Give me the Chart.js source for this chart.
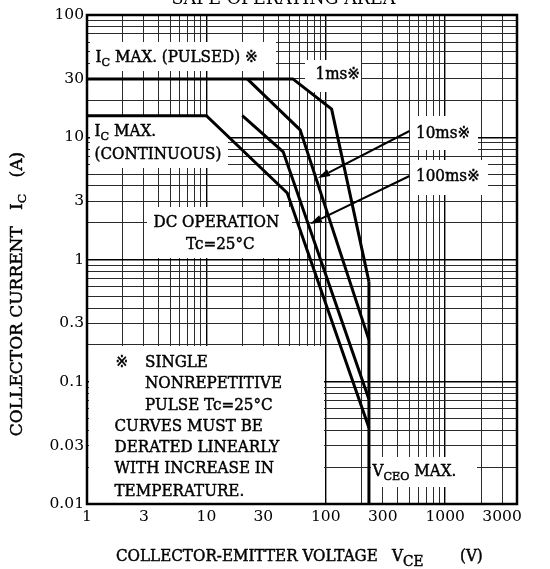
<!DOCTYPE html>
<html><head><meta charset="utf-8">
<script src="https://cdn.jsdelivr.net/npm/chart.js@4.4.1/dist/chart.umd.min.js"></script>
<style>html,body{margin:0;padding:0;background:#fff;}#wrap{width:550px;height:569px;position:relative;}</style>
</head><body><div id="wrap"><canvas id="c"></canvas></div>
<script>
// ---- data ----
const xTickLabels = [1, 3, 10, 30, 100, 300, 1000, 3000];
const yTickLabels = [0.01, 0.03, 0.1, 0.3, 1, 3, 10, 30, 100];
const xDecades = [1, 10, 100, 1000];
const yDecades = [0.01, 0.1, 1, 10];
const gridMultipliers = [1, 2, 3, 4, 5, 6, 7, 8, 9];

const v1ms = [1, 53, 112, 230];     const i1ms = [30, 30, 17, 0.66];
const v10ms = [22, 61, 230];        const i10ms = [30, 11.5, 0.22];
const v100ms = [20, 44, 230];       const i100ms = [15, 7.6, 0.072];
const vDC = [1, 10, 47.6, 230];     const iDC = [15, 15, 3.5, 0.042];
const vVceo = [230, 230];           const iVceo = [0.66, 0.01];

const X_MIN = 1, X_MAX = 4000, Y_MIN = 0.01, Y_MAX = 100;

function gridValues(decades, max) {
  const out = [];
  decades.forEach(d => gridMultipliers.forEach(m => { const v = Number((m * d).toPrecision(6)); if (v <= max) out.push(v); }));
  if (!out.includes(max)) out.push(max);
  return out;
}
const xGrid = gridValues(xDecades, X_MAX);
const yGrid = gridValues(yDecades, Y_MAX);
const isDecade = v => Math.abs(Math.log10(v) - Math.round(Math.log10(v))) < 1e-6;
const pts = (xs, ys) => xs.map((x, i) => ({ x, y: ys[i] }));

const FONT = '"DejaVu Serif", "DejaVu Sans", "Noto Sans CJK JP", serif';
const SX = 0.948; // horizontal text condensing

function drawRich(ctx, segs, x, y, size, sx, subScale) {
  const ss = subScale || 0.74;
  ctx.save();
  ctx.translate(x, y);
  ctx.scale(sx, 1);
  ctx.textBaseline = 'middle';
  ctx.textAlign = 'left';
  ctx.lineWidth = 0.45;
  ctx.strokeStyle = ctx.fillStyle;
  let cx = 0;
  for (const s of segs) {
    const fs = s.sub ? size * ss : size;
    ctx.font = fs + 'px ' + FONT;
    const dy = s.sub ? size * 0.32 : 0;
    ctx.fillText(s.t, cx, dy);
    ctx.strokeText(s.t, cx, dy);
    cx += ctx.measureText(s.t).width;
  }
  ctx.restore();
  return cx * sx;
}
function richWidth(ctx, segs, size) {
  let w = 0;
  for (const s of segs) { ctx.font = (s.sub ? size * 0.74 : size) + 'px ' + FONT; w += ctx.measureText(s.t).width; }
  return w;
}

// annotation layout (canvas pixels)
const boxes = [
  [90, 42, 186, 29], [305, 60, 56, 32], [90, 115, 138, 53], [147, 207, 145, 51],
  [410, 116, 68, 34], [410, 160, 78, 35], [89, 346, 235, 157], [371, 457, 106, 30]
];
const texts = [
  { x: 95.5, y: 58, s: [{ t: 'I' }, { t: 'C', sub: 1 }, { t: ' MAX. (PULSED) ※' }] },
  { x: 315.5, y: 75, s: [{ t: '1ms※' }] },
  { x: 94.5, y: 132, s: [{ t: 'I' }, { t: 'C', sub: 1 }, { t: ' MAX.' }] },
  { x: 94.5, y: 155, s: [{ t: '(CONTINUOUS)' }] },
  { x: 153.5, y: 223, s: [{ t: 'DC OPERATION' }] },
  { x: 186, y: 245, s: [{ t: 'Tc=25°C' }] },
  { x: 416, y: 134, s: [{ t: '10ms※' }] },
  { x: 416, y: 177, s: [{ t: '100ms※' }] },
  { x: 115.5, y: 363, s: [{ t: '※' }] },
  { x: 145, y: 363, s: [{ t: 'SINGLE' }] },
  { x: 145, y: 384, s: [{ t: 'NONREPETITIVE' }] },
  { x: 145, y: 406, s: [{ t: 'PULSE Tc=25°C' }] },
  { x: 114.5, y: 427, s: [{ t: 'CURVES MUST BE' }] },
  { x: 114.5, y: 448, s: [{ t: 'DERATED LINEARLY' }] },
  { x: 114.5, y: 469, s: [{ t: 'WITH INCREASE IN' }] },
  { x: 114.5, y: 492, s: [{ t: 'TEMPERATURE.' }] },
  { x: 372.5, y: 472, s: [{ t: 'V' }, { t: 'CEO', sub: 1 }, { t: ' MAX.' }] }
];
const arrows = [[409.5, 131, 318, 178], [409.5, 176, 310, 224]];

const overlay = {
  id: 'overlay',
  beforeDatasetsDraw(chart) {
    const ctx = chart.ctx;
    ctx.save();
    ctx.fillStyle = '#fff';
    boxes.forEach(b => ctx.fillRect(b[0], b[1], b[2], b[3]));
    ctx.fillStyle = '#000';
    texts.forEach(t => drawRich(ctx, t.s, t.x, t.y, 16, SX));
    ctx.restore();
  },
  afterDatasetsDraw(chart) {
    const ctx = chart.ctx, a = chart.chartArea;
    ctx.save();
    ctx.strokeStyle = '#000'; ctx.fillStyle = '#000'; ctx.lineWidth = 2;
    arrows.forEach(([x1, y1, x2, y2]) => {
      const ang = Math.atan2(y2 - y1, x2 - x1), L = 12, W = 3.8;
      const bx = x2 - L * Math.cos(ang), by = y2 - L * Math.sin(ang);
      ctx.beginPath(); ctx.moveTo(x1, y1); ctx.lineTo(bx, by); ctx.stroke();
      ctx.beginPath(); ctx.moveTo(x2, y2);
      ctx.lineTo(bx + W * Math.sin(ang), by - W * Math.cos(ang));
      ctx.lineTo(bx - W * Math.sin(ang), by + W * Math.cos(ang));
      ctx.closePath(); ctx.fill();
    });
    ctx.lineWidth = 2.5;
    ctx.strokeRect(a.left, a.top, a.right - a.left, a.bottom - a.top);
    // title (cut off at top)
    ctx.save();
    ctx.translate(283.5, 4); ctx.scale(SX, 1);
    ctx.font = '18.5px ' + FONT; ctx.textAlign = 'center'; ctx.textBaseline = 'alphabetic';
    ctx.fillText('SAFE OPERATING AREA', 0, 0);
    ctx.restore();
    // x axis title
    drawRich(ctx, [{ t: 'COLLECTOR-EMITTER VOLTAGE' }], 116, 557, 16, SX);
    drawRich(ctx, [{ t: 'V' }, { t: 'CE', sub: 1 }], 392, 557, 16, SX, 0.9);
    drawRich(ctx, [{ t: '(V)' }], 460, 557, 16, SX);
    // y axis title
    const ys = [{ t: 'COLLECTOR CURRENT   I' }, { t: 'C', sub: 1 }, { t: '   (A)' }];
    const fsY = 17;
    const w = richWidth(ctx, ys, fsY);
    ctx.translate(18, 294); ctx.scale(SX, 1); ctx.rotate(-Math.PI / 2);
    drawRich(ctx, ys, -w / 2, 0, fsY, 1);
    ctx.restore();
  }
};

const lineDs = (data) => ({ data, borderColor: '#000', borderWidth: 3, pointRadius: 0, showLine: true, fill: false, tension: 0, borderJoinStyle: 'miter' });
const gridColor = c => (c.tick && isDecade(c.tick.value)) ? '#000' : '#2a2a2a';
const gridWidth = c => (c.tick && isDecade(c.tick.value)) ? 1.4 : 1;

new Chart(document.getElementById('c'), {
  type: 'scatter',
  data: { datasets: [lineDs(pts(v1ms, i1ms)), lineDs(pts(v10ms, i10ms)), lineDs(pts(v100ms, i100ms)), lineDs(pts(vDC, iDC)), lineDs(pts(vVceo, iVceo))] },
  options: {
    responsive: true, maintainAspectRatio: false, animation: false, devicePixelRatio: 1,
    layout: { padding: { left: 0, right: 33, top: 15, bottom: 0 } },
    plugins: { legend: { display: false }, tooltip: { enabled: false } },
    scales: {
      x: {
        type: 'logarithmic', min: X_MIN, max: X_MAX,
        afterBuildTicks: s => { s.ticks = xGrid.map(v => ({ value: v })); },
        afterFit: s => { s.height = 65; },
        ticks: { autoSkip: false, maxRotation: 0, minRotation: 0, padding: 4, color: '#000', font: { family: FONT, size: 15.5 },
          callback: v => xTickLabels.includes(v) ? String(v) : '' },
        grid: { drawTicks: false, color: gridColor, lineWidth: gridWidth },
        border: { display: false }
      },
      y: {
        type: 'logarithmic', min: Y_MIN, max: Y_MAX,
        afterBuildTicks: s => { s.ticks = yGrid.map(v => ({ value: v })); },
        afterFit: s => { s.width = 87; },
        ticks: { autoSkip: false, padding: 3, color: '#000', font: { family: FONT, size: 15.5 },
          callback: v => yTickLabels.includes(v) ? String(v) : '' },
        grid: { drawTicks: false, color: gridColor, lineWidth: gridWidth },
        border: { display: false }
      }
    }
  },
  plugins: [overlay]
});
</script></body></html>
